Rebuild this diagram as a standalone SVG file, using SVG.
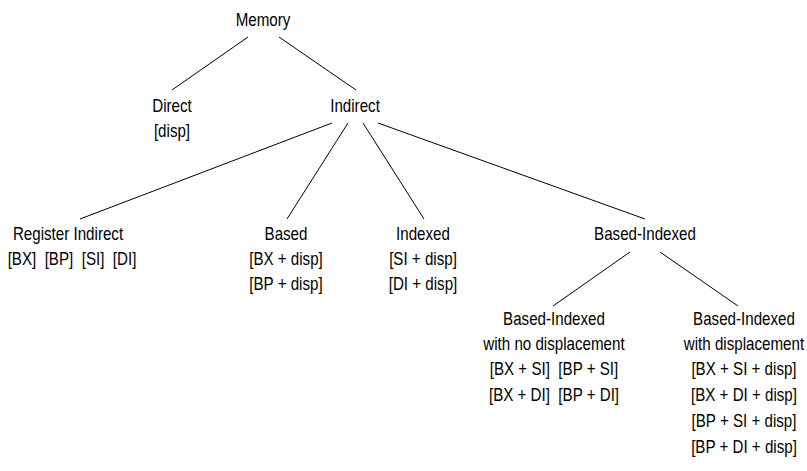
<svg xmlns="http://www.w3.org/2000/svg" width="807" height="471" viewBox="0 0 807 471">
<style>
text{font-family:"Liberation Sans",Arial,sans-serif;font-size:17.5px;fill:#000;text-anchor:middle;transform-box:fill-box;transform-origin:center;transform:scaleX(0.865)}
.c line{stroke:#000;stroke-width:1}
</style>
<rect width="807" height="471" fill="#fff"/>
<g class="c" id="connectors">
<line x1="248" y1="37" x2="172" y2="90"/>
<line x1="279" y1="37" x2="356" y2="90"/>
<line x1="332" y1="123" x2="80" y2="219"/>
<line x1="348" y1="123" x2="287" y2="219"/>
<line x1="363" y1="123" x2="424" y2="219"/>
<line x1="378" y1="123" x2="645" y2="219"/>
<line x1="630" y1="252" x2="553" y2="306"/>
<line x1="660" y1="252" x2="738" y2="306"/>
</g>
<g id="memory"><text x="263" y="26">Memory</text></g>
<g id="direct"><text x="172" y="112">Direct</text><text x="172" y="137">[disp]</text></g>
<g id="indirect"><text x="355" y="112">Indirect</text></g>
<g id="register-indirect"><text x="68" y="240">Register Indirect</text><text x="72" y="265" xml:space="preserve">[BX]  [BP]  [SI]  [DI]</text></g>
<g id="based"><text x="286" y="240">Based</text><text x="286" y="265">[BX + disp]</text><text x="286" y="290">[BP + disp]</text></g>
<g id="indexed"><text x="423" y="240">Indexed</text><text x="423" y="265">[SI + disp]</text><text x="423" y="290">[DI + disp]</text></g>
<g id="based-indexed"><text x="645" y="240">Based-Indexed</text></g>
<g id="bi-no-disp"><text x="554" y="325">Based-Indexed</text><text x="554" y="350">with no displacement</text><text x="554" y="375" xml:space="preserve">[BX + SI]  [BP + SI]</text><text x="554" y="401" xml:space="preserve">[BX + DI]  [BP + DI]</text></g>
<g id="bi-disp"><text x="744" y="325">Based-Indexed</text><text x="744" y="350">with displacement</text><text x="744" y="375">[BX + SI + disp]</text><text x="744" y="401">[BX + DI + disp]</text><text x="744" y="427">[BP + SI + disp]</text><text x="744" y="453">[BP + DI + disp]</text></g>
</svg>
